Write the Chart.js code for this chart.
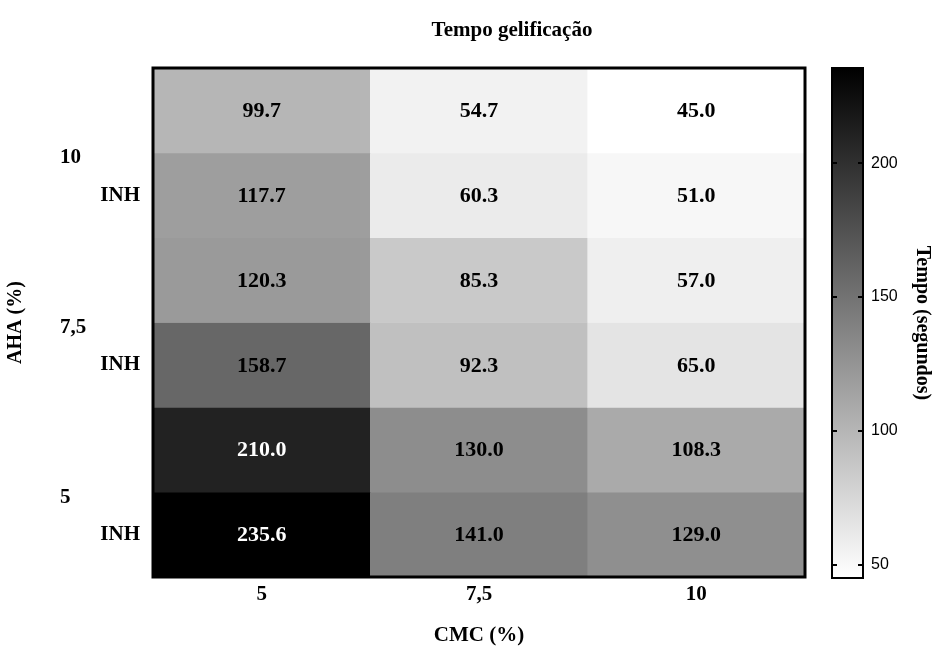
<!DOCTYPE html>
<html lang="pt">
<head>
<meta charset="utf-8">
<title>Tempo gelificação</title>
<script src="https://cdn.jsdelivr.net/npm/chart.js@4.4.1/dist/chart.umd.min.js"></script>
<style>
  body { margin: 0; background: #fff; }
  #wrap { position: relative; width: 932px; height: 648px; }
  #heat { position: absolute; left: 0; top: 0; }
  #barra { position: absolute; left: 820px; top: 0; }
</style>
</head>
<body>
<div id="wrap">
  <canvas id="heat" width="820" height="648"></canvas>
  <canvas id="barra" width="112" height="648"></canvas>
</div>
<script>
// colunas de CMC, grupos de AHA; cada grupo tem uma linha normal e uma INH (de cima para baixo)
const cmcLabels = ['5', '7,5', '10'];
const ahaLabels = ['10', '7,5', '5'];
const rowLabels = ['', 'INH', '', 'INH', '', 'INH'];

const aha10 = [99.7, 54.7, 45.0];
const aha10Inh = [117.7, 60.3, 51.0];
const aha75 = [120.3, 85.3, 57.0];
const aha75Inh = [158.7, 92.3, 65.0];
const aha5 = [210.0, 130.0, 108.3];
const aha5Inh = [235.6, 141.0, 129.0];

const barTicks = [50, 100, 150, 200];

const rows = [aha10, aha10Inh, aha75, aha75Inh, aha5, aha5Inh];
const allValues = rows.flat();
const vMin = Math.min(...allValues);
const vMax = Math.max(...allValues);

const SERIF = '"Liberation Serif", "Times New Roman", serif';
const SANS = '"Liberation Sans", Arial, sans-serif';
const boldSerif = { family: SERIF, size: 21, weight: 'bold' };
const boldSerifV = { family: SERIF, size: 20, weight: 'bold' };

// escala de cinza: valor minimo branco, maximo preto
function frac(v) {
  return (v - vMin) / (vMax - vMin);
}
function shade(v) {
  const g = Math.round(255 * (1 - frac(v)));
  return 'rgb(' + g + ',' + g + ',' + g + ')';
}

const noGrid = { display: false, drawTicks: false };

// valores dentro das celulas, moldura e titulo
const cellText = {
  id: 'cellText',
  afterDatasetsDraw(chart) {
    const { ctx, chartArea } = chart;
    ctx.save();
    ctx.lineWidth = 3;
    ctx.strokeStyle = '#000';
    ctx.strokeRect(chartArea.left, chartArea.top, chartArea.width, chartArea.height);

    ctx.font = 'bold 22px ' + SERIF;
    ctx.textAlign = 'center';
    ctx.textBaseline = 'middle';
    chart.data.datasets.forEach((ds, i) => {
      chart.getDatasetMeta(i).data.forEach((bar, j) => {
        const v = ds.values[j];
        ctx.fillStyle = frac(v) > 0.7 ? '#fff' : '#000';
        ctx.fillText(v.toFixed(1), bar.x, (bar.y + bar.base) / 2 + 1);
      });
    });

    ctx.font = 'bold 21px ' + SERIF;
    ctx.fillStyle = '#000';
    ctx.fillText('Tempo gelificação', 512, 31);
    ctx.restore();
  }
};

new Chart(document.getElementById('heat'), {
  type: 'bar',
  data: {
    labels: cmcLabels,
    datasets: rows.map((vals, i) => ({
      label: rowLabels[i] || ahaLabels[i >> 1],
      data: vals.map(() => 1),
      values: vals,
      backgroundColor: vals.map(shade),
      borderWidth: 0,
      barPercentage: 1,
      categoryPercentage: 1
    }))
  },
  options: {
    responsive: false,
    animation: false,
    layout: { padding: { left: 0, top: 68, right: 15, bottom: 0 } },
    plugins: { legend: { display: false }, tooltip: { enabled: false } },
    scales: {
      x: {
        stacked: true,
        grid: noGrid,
        border: { display: false },
        ticks: { font: boldSerif, color: '#000', padding: 5 },
        title: { display: true, text: 'CMC (%)', font: boldSerif, color: '#000', padding: { top: 0, bottom: 0 } },
        afterFit: s => { s.height = 71; }
      },
      y: {
        stacked: true,
        reverse: true,
        min: 0,
        max: 6,
        weight: 0,
        grid: noGrid,
        border: { display: false },
        afterBuildTicks: s => { s.ticks = rowLabels.map((_, i) => ({ value: i + 0.5 })); },
        ticks: { autoSkip: false, callback: (v, i) => rowLabels[i], font: boldSerif, color: '#000', padding: 13 },
        afterFit: s => { s.width = 63; }
      },
      yGroup: {
        type: 'linear',
        position: 'left',
        reverse: true,
        min: 0,
        max: 6,
        weight: 1,
        grid: noGrid,
        border: { display: false },
        afterBuildTicks: s => { s.ticks = ahaLabels.map((_, i) => ({ value: 2 * i + 1.06 })); },
        ticks: { autoSkip: false, callback: (v, i) => ahaLabels[i], crossAlign: 'far', font: boldSerif, color: '#000' },
        afterFit: s => { s.width = 30; }
      },
      yTitle: {
        type: 'linear',
        position: 'left',
        min: 0,
        max: 6,
        weight: 2,
        grid: noGrid,
        border: { display: false },
        ticks: { display: false },
        title: { display: true, text: 'AHA (%)', font: boldSerifV, color: '#000', padding: { top: 4, bottom: 0 } },
        afterFit: s => { s.width = 60; }
      }
    }
  },
  plugins: [cellText]
});

// barra de cores com marcas internas nos dois lados
const barFrame = {
  id: 'barFrame',
  afterDatasetsDraw(chart) {
    const { ctx, chartArea } = chart;
    const y = chart.scales.y;
    ctx.save();
    ctx.strokeStyle = '#000';
    ctx.lineWidth = 2;
    barTicks.forEach(v => {
      const py = Math.round(y.getPixelForValue(v));
      ctx.beginPath();
      ctx.moveTo(chartArea.left, py);
      ctx.lineTo(chartArea.left + 5, py);
      ctx.moveTo(chartArea.right - 5, py);
      ctx.lineTo(chartArea.right, py);
      ctx.stroke();
    });
    ctx.strokeRect(chartArea.left, chartArea.top, chartArea.width, chartArea.height);
    ctx.restore();
  }
};

new Chart(document.getElementById('barra'), {
  type: 'bar',
  data: {
    labels: [''],
    datasets: [{
      data: [[vMin, vMax]],
      backgroundColor: c => {
        const ch = c.chart;
        if (!ch.chartArea) return '#888';
        const y = ch.scales.y;
        const g = ch.ctx.createLinearGradient(0, y.getPixelForValue(vMin), 0, y.getPixelForValue(vMax));
        g.addColorStop(0, shade(vMin));
        g.addColorStop(1, shade(vMax));
        return g;
      },
      borderWidth: 0,
      barPercentage: 1,
      categoryPercentage: 1
    }]
  },
  options: {
    responsive: false,
    animation: false,
    layout: { padding: { left: 12, top: 68, right: 0, bottom: 70 } },
    plugins: { legend: { display: false }, tooltip: { enabled: false } },
    scales: {
      x: { display: false },
      y: {
        position: 'right',
        min: vMin,
        max: vMax,
        grid: noGrid,
        border: { display: false },
        afterBuildTicks: s => { s.ticks = barTicks.map(v => ({ value: v })); },
        ticks: { font: { family: SANS, size: 16 }, color: '#000', padding: 8 },
        title: {
          display: true,
          text: 'Tempo (segundos)',
          font: { family: SERIF, size: 20, weight: 'bold', lineHeight: 1 },
          color: '#000',
          padding: 0
        },
        afterFit: s => { s.width = 69; }
      }
    }
  },
  plugins: [barFrame]
});
</script>
</body>
</html>
